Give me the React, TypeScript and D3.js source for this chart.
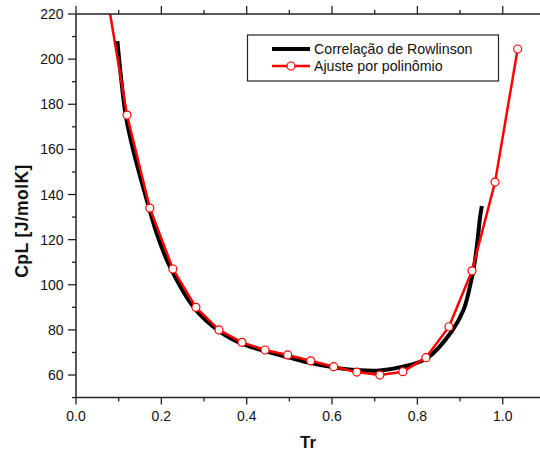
import React from "react";
import * as d3 from "d3";

// Rowlinson correlation (black curve)
const rowTr = [0.097, 0.107, 0.117, 0.134, 0.162, 0.189, 0.22, 0.28, 0.335, 0.39, 0.443, 0.5, 0.55, 0.604, 0.658, 0.712, 0.766, 0.822, 0.88, 0.908, 0.923, 0.934, 0.941, 0.947, 0.951];
const rowCp = [208, 189.3, 174.5, 159.7, 140.1, 122.8, 108, 89, 79.5, 73.8, 70.6, 67.7, 65.3, 63.4, 62.2, 62, 63.7, 67.4, 79.2, 88.8, 99.1, 109.5, 119.8, 130, 134.9];

// Polynomial fit (red line with markers)
const polyTr = [0.0658, 0.1195, 0.173, 0.227, 0.281, 0.335, 0.389, 0.443, 0.496, 0.55, 0.604, 0.658, 0.712, 0.766, 0.82, 0.874, 0.928, 0.982, 1.035];
const polyCp = [236, 175.2, 134, 107, 90, 80, 74.5, 71.1, 68.9, 66.3, 63.7, 61.3, 60, 61.5, 67.7, 81.4, 106.2, 145.5, 204.5];

const xMajor = [0, 0.2, 0.4, 0.6, 0.8, 1.0];
const xMinor = [0.1, 0.3, 0.5, 0.7, 0.9, 1.1];
const yMajor = [60, 80, 100, 120, 140, 160, 180, 200, 220];
const yMinor = [50, 70, 90, 110, 130, 150, 170, 190, 210];

const legendLabels = ["Correlação de Rowlinson", "Ajuste por polinômio"];
const xTitle = "Tr";
const yTitle = "CpL [J/molK]";

export default function App() {
  const W = 540, H = 454;
  const left = 76, right = 545.4, top = 14, bottom = 397.6;
  const x = d3.scaleLinear().domain([0, 1.1]).range([left, right]);
  const y = d3.scaleLinear().domain([50, 220]).range([bottom, top]);
  const font = "'Liberation Sans', Arial, sans-serif";

  const rowData = rowTr.map((t, i) => [t, rowCp[i]] as [number, number]);
  const polyData = polyTr.map((t, i) => [t, polyCp[i]] as [number, number]);
  const rowLine = d3.line<[number, number]>().x(d => x(d[0])).y(d => y(d[1])).curve(d3.curveCatmullRom.alpha(0.5));
  const polyLine = d3.line<[number, number]>().x(d => x(d[0])).y(d => y(d[1]));

  const fmtX = d3.format(".1f");
  const axisColor = "#222";

  return (
    <svg width={W} height={H} style={{ position: "absolute", left: 0, top: 0, background: "#fff" }} fontFamily={font}>
      <defs>
        <clipPath id="plotclip">
          <rect x={left} y={top} width={right - left} height={bottom - top} />
        </clipPath>
      </defs>

      {/* data */}
      <g clipPath="url(#plotclip)">
        <path d={rowLine(rowData) || ""} fill="none" stroke="#000" strokeWidth={4} strokeLinejoin="round" />
        <path d={polyLine(polyData) || ""} fill="none" stroke="#ff0000" strokeWidth={2.5} strokeLinejoin="round" />
        {polyData.map((d, i) => (
          <circle key={i} cx={x(d[0])} cy={y(d[1])} r={4} fill="#fff" stroke="#ff0000" strokeWidth={1.2} />
        ))}
      </g>

      {/* axes frame */}
      <line x1={left} x2={right} y1={bottom} y2={bottom} stroke={axisColor} strokeWidth={1.5} />
      <line x1={left} x2={right} y1={top} y2={top} stroke={axisColor} strokeWidth={1.5} />
      <line x1={left} x2={left} y1={top} y2={bottom} stroke={axisColor} strokeWidth={1.5} />
      <line x1={right} x2={right} y1={top} y2={bottom} stroke={axisColor} strokeWidth={1.5} />

      {/* x ticks */}
      {xMajor.map(v => (
        <g key={"xM" + v}>
          <line x1={x(v)} x2={x(v)} y1={bottom} y2={bottom + 7} stroke={axisColor} strokeWidth={1.3} />
          <line x1={x(v)} x2={x(v)} y1={top} y2={top - 8} stroke={axisColor} strokeWidth={1.3} />
          <text x={x(v)} y={421} textAnchor="middle" fontSize={14} fill="#111">{fmtX(v)}</text>
        </g>
      ))}
      {xMinor.map(v => (
        <g key={"xm" + v}>
          <line x1={x(v)} x2={x(v)} y1={bottom} y2={bottom + 4} stroke={axisColor} strokeWidth={1.3} />
          <line x1={x(v)} x2={x(v)} y1={top} y2={top - 4} stroke={axisColor} strokeWidth={1.3} />
        </g>
      ))}

      {/* y ticks */}
      {yMajor.map(v => (
        <g key={"yM" + v}>
          <line x1={left - 8} x2={left} y1={y(v)} y2={y(v)} stroke={axisColor} strokeWidth={1.3} />
          <text x={63.5} y={y(v) + 5} textAnchor="end" fontSize={14} fill="#111">{v}</text>
        </g>
      ))}
      {yMinor.map(v => (
        <line key={"ym" + v} x1={left - 4} x2={left} y1={y(v)} y2={y(v)} stroke={axisColor} strokeWidth={1.3} />
      ))}

      {/* titles */}
      <text x={308} y={448.3} textAnchor="middle" fontSize={17} fontWeight="bold" fill="#111">{xTitle}</text>
      <text transform={`translate(27.5,221) rotate(-90)`} textAnchor="middle" fontSize={17.5} letterSpacing={0.4} fontWeight="bold" fill="#111">{yTitle}</text>

      {/* legend */}
      <g>
        <rect x={247.5} y={35} width={251} height={46} fill="#fff" stroke="#222" strokeWidth={1.2} />
        <line x1={272} x2={310} y1={49} y2={49} stroke="#000" strokeWidth={4} />
        <text x={314} y={54} fontSize={14.2} fill="#111">{legendLabels[0]}</text>
        <line x1={272} x2={310} y1={66} y2={66} stroke="#ff0000" strokeWidth={2.5} />
        <circle cx={291} cy={66} r={4} fill="#fff" stroke="#ff0000" strokeWidth={1.2} />
        <text x={314} y={70.7} fontSize={14.2} fill="#111">{legendLabels[1]}</text>
      </g>
    </svg>
  );
}
